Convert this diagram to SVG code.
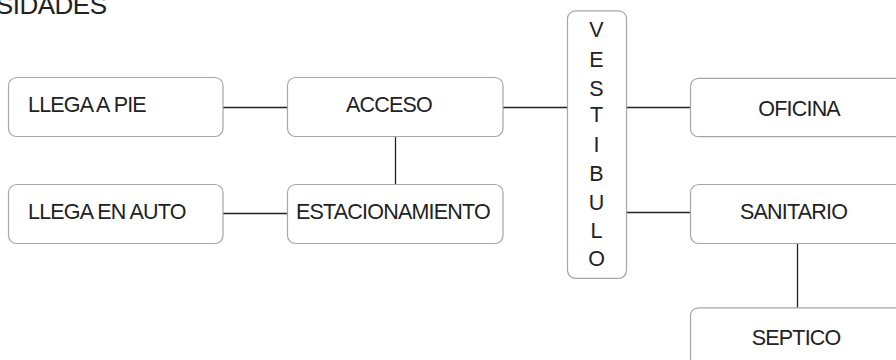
<svg xmlns="http://www.w3.org/2000/svg" width="896" height="360" viewBox="0 0 896 360">
<style>
.box{fill:#fff;stroke:#a6a6a6;stroke-width:1.2}
.t{font-family:"Liberation Sans",Arial,sans-serif;font-size:21.5px;fill:#222;letter-spacing:-0.8px}
.v{font-family:"Liberation Sans",Arial,sans-serif;font-size:21.5px;fill:#222}
.c{stroke:#222;stroke-width:1.3;fill:none}
</style>
<rect width="896" height="360" fill="#fff"/>
<text class="t" x="106.5" y="14" text-anchor="end" style="font-size:26px;letter-spacing:-0.5px">SIDADES</text>
<g id="connectors">
<line class="c" x1="223" y1="107.5" x2="288" y2="107.5"/>
<line class="c" x1="223" y1="213.5" x2="288" y2="213.5"/>
<line class="c" x1="395.5" y1="137" x2="395.5" y2="184"/>
<line class="c" x1="503" y1="107.5" x2="567" y2="107.5"/>
<line class="c" x1="626.5" y1="107.5" x2="690" y2="107.5"/>
<line class="c" x1="626.5" y1="212.5" x2="690" y2="212.5"/>
<line class="c" x1="797.5" y1="243" x2="797.5" y2="308"/>
</g>
<g id="llega-a-pie"><rect class="box" x="8.5" y="77.5" width="214.5" height="59" rx="8"/><text class="t" x="28" y="112">LLEGA A PIE</text></g>
<g id="llega-en-auto"><rect class="box" x="8.5" y="184.5" width="214.5" height="59" rx="8"/><text class="t" x="28" y="219">LLEGA EN AUTO</text></g>
<g id="acceso"><rect class="box" x="287.5" y="77.5" width="215.5" height="59" rx="8"/><text class="t" x="346" y="112.3">ACCESO</text></g>
<g id="estacionamiento"><rect class="box" x="287.5" y="184.5" width="215.5" height="59" rx="8"/><text class="t" x="296" y="218.5">ESTACIONAMIENTO</text></g>
<g id="vestibulo"><rect class="box" x="567.5" y="10.8" width="59" height="267.5" rx="8"/>
<g class="v" text-anchor="middle">
<text x="596.5" y="36.7">V</text>
<text x="596.5" y="66.7">E</text>
<text x="596.5" y="96">S</text>
<text x="596.5" y="121.7">T</text>
<text x="596.5" y="151.7">I</text>
<text x="596.5" y="180.7">B</text>
<text x="596.5" y="209.5">U</text>
<text x="596.5" y="238.3">L</text>
<text x="596.5" y="266">O</text>
</g></g>
<g id="oficina"><rect class="box" x="690.5" y="78.3" width="230" height="58.4" rx="8"/><text class="t" x="758.3" y="116">OFICINA</text></g>
<g id="sanitario"><rect class="box" x="690.5" y="184.5" width="230" height="59" rx="8"/><text class="t" x="740" y="219.3">SANITARIO</text></g>
<g id="septico"><rect class="box" x="690.5" y="307.8" width="230" height="80" rx="8"/><text class="t" x="751.7" y="345">SEPTICO</text></g>
</svg>
